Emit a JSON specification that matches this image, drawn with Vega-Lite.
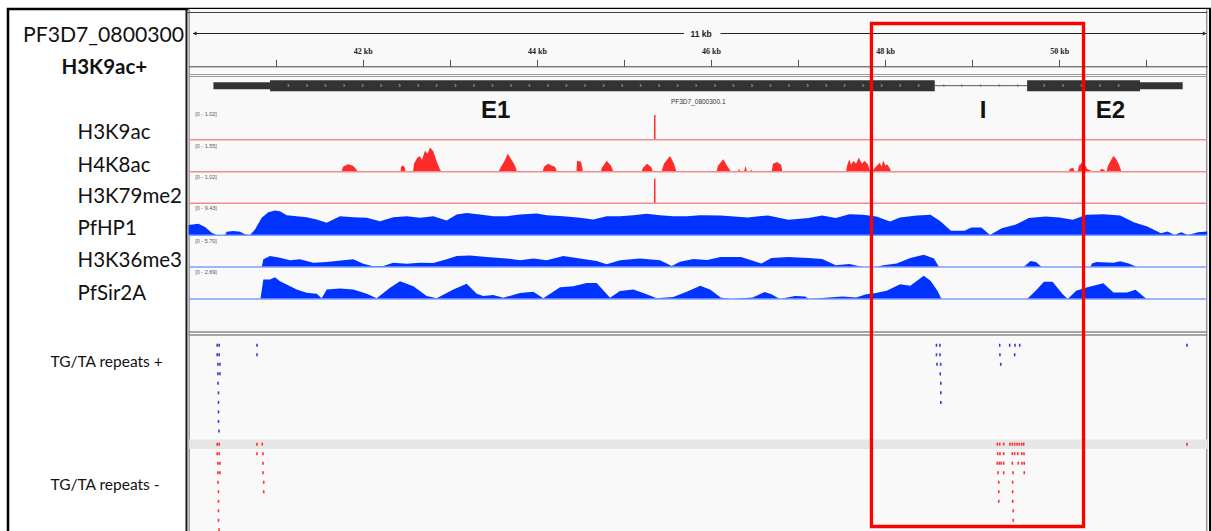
{
  "$schema": "https://vega.github.io/schema/vega-lite/v6.json",
  "width": 1211,
  "height": 531,
  "autosize": {"type": "fit", "contains": "padding"},
  "padding": {"left": 8, "top": 8, "right": 1, "bottom": -3},
  "background": "#ffffff",
  "config": {"view": {"stroke": "#000000", "strokeWidth": 2.5}},
  "resolve": {
    "scale": {"y": "independent", "color": "independent", "strokeWidth": "independent", "shape": "independent"},
    "axis": {"y": "independent"}
  },
  "datasets": {
    "panel": [{"start": 40.0, "end": 51.72}],
    "frame_v": [{"edge": "panel border", "pos": 39.975}, {"edge": "panel inner", "pos": 40.006}, {"edge": "panel right", "pos": 51.694}],
    "frame_top": [{"edge": "top", "start": 39.975, "end": 51.7}],
    "ruler_sep": [{"edge": "upper", "start": 40.0, "end": 51.7}, {"edge": "lower", "start": 40.0, "end": 51.7}],
    "repeat_sep": [{"edge": "upper", "start": 40.0, "end": 51.7}, {"edge": "lower", "start": 40.0, "end": 51.7}],
    "ruler_span": [{"track": "ruler", "start": 40.05, "end": 45.69}, {"track": "ruler", "start": 46.11, "end": 51.69}],
    "ruler_arrows": [{"track": "ruler", "pos": 40.07, "dir": "left"}, {"track": "ruler", "pos": 51.67, "dir": "right"}],
    "ruler_text": [{"track": "ruler", "pos": 45.886, "label": "11 kb"}],
    "gene_intron": [{"track": "gene", "start": 48.57, "end": 49.631}],
    "gene_parts": [
      {"track": "gene", "kind": "UTR", "start": 40.285, "end": 40.935},
      {"track": "gene", "kind": "CDS", "start": 40.935, "end": 48.57},
      {"track": "gene", "kind": "CDS", "start": 49.631, "end": 50.928},
      {"track": "gene", "kind": "UTR", "start": 50.928, "end": 51.418}
    ],
    "exon_chevrons": [
      {"track": "gene", "pos": 41.145}, {"track": "gene", "pos": 41.358}, {"track": "gene", "pos": 41.571}, {"track": "gene", "pos": 41.784},
      {"track": "gene", "pos": 41.997}, {"track": "gene", "pos": 42.21}, {"track": "gene", "pos": 42.423}, {"track": "gene", "pos": 42.636},
      {"track": "gene", "pos": 42.849}, {"track": "gene", "pos": 43.062}, {"track": "gene", "pos": 43.275}, {"track": "gene", "pos": 43.488},
      {"track": "gene", "pos": 43.7}, {"track": "gene", "pos": 43.913}, {"track": "gene", "pos": 44.126}, {"track": "gene", "pos": 44.339},
      {"track": "gene", "pos": 44.552}, {"track": "gene", "pos": 44.765}, {"track": "gene", "pos": 44.978}, {"track": "gene", "pos": 45.191},
      {"track": "gene", "pos": 45.404}, {"track": "gene", "pos": 45.617}, {"track": "gene", "pos": 45.83}, {"track": "gene", "pos": 46.043},
      {"track": "gene", "pos": 46.256}, {"track": "gene", "pos": 46.469}, {"track": "gene", "pos": 46.682}, {"track": "gene", "pos": 46.895},
      {"track": "gene", "pos": 47.108}, {"track": "gene", "pos": 47.321}, {"track": "gene", "pos": 47.533}, {"track": "gene", "pos": 47.746},
      {"track": "gene", "pos": 47.959}, {"track": "gene", "pos": 48.172}, {"track": "gene", "pos": 48.385},
      {"track": "gene", "pos": 49.825}, {"track": "gene", "pos": 50.04}, {"track": "gene", "pos": 50.254}, {"track": "gene", "pos": 50.467}, {"track": "gene", "pos": 50.681}
    ],
    "intron_chevrons": [
      {"track": "gene", "pos": 48.676}, {"track": "gene", "pos": 48.883}, {"track": "gene", "pos": 49.098}, {"track": "gene", "pos": 49.311}, {"track": "gene", "pos": 49.526}
    ],
    "gene_name": [{"track": "gene", "pos": 45.853, "label": "PF3D7_0800300.1"}],
    "exon_labels": [
      {"track": "gene", "pos": 43.528, "label": "E1"},
      {"track": "gene", "pos": 49.124, "label": "I"},
      {"track": "gene", "pos": 50.588, "label": "E2"}
    ],
    "H3K9ac": [
      {"pos": 40.0, "value": 0}, {"pos": 45.345, "value": 0}, {"pos": 45.346, "value": 1.02},
      {"pos": 45.362, "value": 1.02}, {"pos": 45.363, "value": 0}, {"pos": 51.7, "value": 0}
    ],
    "H3K79me2": [
      {"pos": 40.0, "value": 0}, {"pos": 45.345, "value": 0}, {"pos": 45.346, "value": 1.02},
      {"pos": 45.362, "value": 1.02}, {"pos": 45.363, "value": 0}, {"pos": 51.7, "value": 0}
    ],
    "H4K8ac": [
      {"pos": 40.0, "value": 0}, {"pos": 41.756, "value": 0}, {"pos": 41.773, "value": 0.31}, {"pos": 41.83, "value": 0.46},
      {"pos": 41.888, "value": 0.37}, {"pos": 41.93, "value": 0.12}, {"pos": 41.94, "value": 0},
      {"pos": 42.376, "value": 0}, {"pos": 42.382, "value": 0.08}, {"pos": 42.391, "value": 0},
      {"pos": 42.434, "value": 0}, {"pos": 42.439, "value": 0.31}, {"pos": 42.462, "value": 0.39}, {"pos": 42.485, "value": 0.25}, {"pos": 42.491, "value": 0},
      {"pos": 42.577, "value": 0}, {"pos": 42.589, "value": 0.5}, {"pos": 42.626, "value": 0.87}, {"pos": 42.657, "value": 0.97},
      {"pos": 42.68, "value": 0.74}, {"pos": 42.715, "value": 1.32}, {"pos": 42.744, "value": 1.12}, {"pos": 42.772, "value": 1.52},
      {"pos": 42.81, "value": 1.28}, {"pos": 42.849, "value": 0.66}, {"pos": 42.887, "value": 0.14}, {"pos": 42.907, "value": 0},
      {"pos": 43.559, "value": 0}, {"pos": 43.576, "value": 0.19}, {"pos": 43.634, "value": 0.74}, {"pos": 43.665, "value": 1.12},
      {"pos": 43.711, "value": 0.74}, {"pos": 43.749, "value": 0.37}, {"pos": 43.772, "value": 0},
      {"pos": 44.065, "value": 0}, {"pos": 44.082, "value": 0.31}, {"pos": 44.128, "value": 0.5}, {"pos": 44.174, "value": 0.37},
      {"pos": 44.208, "value": 0.31}, {"pos": 44.231, "value": 0},
      {"pos": 44.455, "value": 0}, {"pos": 44.461, "value": 0.68}, {"pos": 44.507, "value": 0.62}, {"pos": 44.53, "value": 0},
      {"pos": 44.731, "value": 0}, {"pos": 44.748, "value": 0.25}, {"pos": 44.802, "value": 0.68}, {"pos": 44.851, "value": 0.37}, {"pos": 44.88, "value": 0},
      {"pos": 45.202, "value": 0}, {"pos": 45.219, "value": 0.25}, {"pos": 45.265, "value": 0.5}, {"pos": 45.311, "value": 0.31}, {"pos": 45.334, "value": 0},
      {"pos": 45.431, "value": 0}, {"pos": 45.46, "value": 0.5}, {"pos": 45.529, "value": 0.99}, {"pos": 45.575, "value": 0.5}, {"pos": 45.604, "value": 0},
      {"pos": 46.063, "value": 0}, {"pos": 46.08, "value": 0.37}, {"pos": 46.141, "value": 0.78}, {"pos": 46.184, "value": 0.37}, {"pos": 46.23, "value": 0},
      {"pos": 46.31, "value": 0}, {"pos": 46.321, "value": 0.19}, {"pos": 46.339, "value": 0},
      {"pos": 46.379, "value": 0}, {"pos": 46.396, "value": 0.37}, {"pos": 46.414, "value": 0},
      {"pos": 46.449, "value": 0}, {"pos": 46.465, "value": 0.12}, {"pos": 46.483, "value": 0},
      {"pos": 46.695, "value": 0}, {"pos": 46.712, "value": 0.5}, {"pos": 46.758, "value": 0.61}, {"pos": 46.804, "value": 0.43}, {"pos": 46.821, "value": 0},
      {"pos": 47.551, "value": 0}, {"pos": 47.563, "value": 0.37}, {"pos": 47.589, "value": 0.78}, {"pos": 47.608, "value": 0.43},
      {"pos": 47.636, "value": 0.67}, {"pos": 47.666, "value": 0.5}, {"pos": 47.698, "value": 0.88}, {"pos": 47.734, "value": 0.5},
      {"pos": 47.764, "value": 0.67}, {"pos": 47.802, "value": 0.47}, {"pos": 47.822, "value": 0.12}, {"pos": 47.85, "value": 0},
      {"pos": 47.873, "value": 0.19}, {"pos": 47.939, "value": 0.56}, {"pos": 47.959, "value": 0.31}, {"pos": 47.978, "value": 0.71},
      {"pos": 48.005, "value": 0.37}, {"pos": 48.024, "value": 0.47}, {"pos": 48.056, "value": 0.19}, {"pos": 48.068, "value": 0},
      {"pos": 49.974, "value": 0}, {"pos": 49.981, "value": 0.06}, {"pos": 49.991, "value": 0},
      {"pos": 50.106, "value": 0}, {"pos": 50.123, "value": 0.19}, {"pos": 50.158, "value": 0.25}, {"pos": 50.181, "value": 0},
      {"pos": 50.21, "value": 0}, {"pos": 50.227, "value": 0.37}, {"pos": 50.261, "value": 0.56}, {"pos": 50.296, "value": 0.43},
      {"pos": 50.319, "value": 0.19}, {"pos": 50.342, "value": 0.12}, {"pos": 50.388, "value": 0},
      {"pos": 50.463, "value": 0}, {"pos": 50.481, "value": 0.19}, {"pos": 50.515, "value": 0.12}, {"pos": 50.532, "value": 0},
      {"pos": 50.543, "value": 0}, {"pos": 50.56, "value": 0.37}, {"pos": 50.595, "value": 0.74}, {"pos": 50.623, "value": 0.99},
      {"pos": 50.652, "value": 0.81}, {"pos": 50.687, "value": 0.43}, {"pos": 50.715, "value": 0}, {"pos": 51.7, "value": 0}
    ],
    "PfHP1": [
      {"pos": 40.0, "value": 3.9}, {"pos": 40.047, "value": 4.15}, {"pos": 40.111, "value": 4.41}, {"pos": 40.188, "value": 3.13},
      {"pos": 40.265, "value": 1.02}, {"pos": 40.322, "value": 0.11}, {"pos": 40.418, "value": 0.15}, {"pos": 40.437, "value": 1.4},
      {"pos": 40.513, "value": 1.62}, {"pos": 40.59, "value": 1.4}, {"pos": 40.647, "value": 0.38}, {"pos": 40.705, "value": 0.11},
      {"pos": 40.762, "value": 2.26}, {"pos": 40.839, "value": 6.68}, {"pos": 40.915, "value": 8.79}, {"pos": 40.992, "value": 9.43},
      {"pos": 41.049, "value": 9.17}, {"pos": 41.126, "value": 7.66}, {"pos": 41.241, "value": 7.28}, {"pos": 41.356, "value": 6.9},
      {"pos": 41.471, "value": 6.04}, {"pos": 41.586, "value": 4.79}, {"pos": 41.662, "value": 6.04}, {"pos": 41.739, "value": 7.28},
      {"pos": 41.891, "value": 6.9}, {"pos": 42.045, "value": 6.68}, {"pos": 42.198, "value": 5.39}, {"pos": 42.351, "value": 6.9},
      {"pos": 42.505, "value": 7.28}, {"pos": 42.657, "value": 6.68}, {"pos": 42.81, "value": 7.28}, {"pos": 42.964, "value": 5.66},
      {"pos": 43.079, "value": 7.92}, {"pos": 43.194, "value": 8.56}, {"pos": 43.347, "value": 7.92}, {"pos": 43.499, "value": 7.28},
      {"pos": 43.653, "value": 7.28}, {"pos": 43.806, "value": 7.92}, {"pos": 43.998, "value": 8.3}, {"pos": 44.113, "value": 7.66},
      {"pos": 44.304, "value": 7.28}, {"pos": 44.495, "value": 6.68}, {"pos": 44.648, "value": 6.04}, {"pos": 44.802, "value": 7.28},
      {"pos": 44.955, "value": 7.28}, {"pos": 45.108, "value": 7.66}, {"pos": 45.261, "value": 8.19}, {"pos": 45.414, "value": 7.66},
      {"pos": 45.567, "value": 7.28}, {"pos": 45.721, "value": 7.28}, {"pos": 45.874, "value": 7.66}, {"pos": 46.11, "value": 7.58},
      {"pos": 46.421, "value": 6.79}, {"pos": 46.655, "value": 7.58}, {"pos": 46.889, "value": 5.92}, {"pos": 47.122, "value": 6.56},
      {"pos": 47.277, "value": 7.58}, {"pos": 47.433, "value": 6.56}, {"pos": 47.589, "value": 8.07}, {"pos": 47.745, "value": 7.85},
      {"pos": 47.9, "value": 7.2}, {"pos": 48.056, "value": 5.28}, {"pos": 48.171, "value": 6.79}, {"pos": 48.366, "value": 7.58},
      {"pos": 48.522, "value": 7.85}, {"pos": 48.638, "value": 5.28}, {"pos": 48.756, "value": 1.7}, {"pos": 48.912, "value": 1.7},
      {"pos": 48.989, "value": 2.98}, {"pos": 49.106, "value": 2.98}, {"pos": 49.204, "value": 0.15}, {"pos": 49.339, "value": 2.72},
      {"pos": 49.494, "value": 4.0}, {"pos": 49.65, "value": 6.56}, {"pos": 49.844, "value": 7.2}, {"pos": 50.001, "value": 6.79},
      {"pos": 50.156, "value": 5.92}, {"pos": 50.312, "value": 7.85}, {"pos": 50.506, "value": 8.07}, {"pos": 50.7, "value": 7.58},
      {"pos": 50.856, "value": 5.02}, {"pos": 51.011, "value": 3.36}, {"pos": 51.168, "value": 0.79}, {"pos": 51.245, "value": 1.43},
      {"pos": 51.323, "value": 0.15}, {"pos": 51.401, "value": 1.13}, {"pos": 51.479, "value": 0.15}, {"pos": 51.595, "value": 1.13},
      {"pos": 51.7, "value": 1.43}
    ],
    "H3K36me3": [
      {"pos": 40.0, "value": 0}, {"pos": 40.84, "value": 0}, {"pos": 40.858, "value": 1.76}, {"pos": 40.935, "value": 2.51},
      {"pos": 41.049, "value": 2.12}, {"pos": 41.164, "value": 1.53}, {"pos": 41.279, "value": 1.76}, {"pos": 41.432, "value": 0.98},
      {"pos": 41.586, "value": 1.14}, {"pos": 41.776, "value": 1.53}, {"pos": 41.891, "value": 1.76}, {"pos": 42.006, "value": 0.75},
      {"pos": 42.121, "value": 0.16}, {"pos": 42.236, "value": 0.23}, {"pos": 42.351, "value": 0.98}, {"pos": 42.505, "value": 0.75},
      {"pos": 42.657, "value": 0.98}, {"pos": 42.81, "value": 0.91}, {"pos": 42.964, "value": 1.76}, {"pos": 43.079, "value": 2.51},
      {"pos": 43.232, "value": 2.67}, {"pos": 43.424, "value": 2.28}, {"pos": 43.653, "value": 1.98}, {"pos": 43.806, "value": 1.53},
      {"pos": 43.959, "value": 1.98}, {"pos": 44.113, "value": 1.53}, {"pos": 44.304, "value": 2.51}, {"pos": 44.495, "value": 1.98},
      {"pos": 44.687, "value": 1.37}, {"pos": 44.802, "value": 0.62}, {"pos": 44.955, "value": 1.53}, {"pos": 45.184, "value": 1.98},
      {"pos": 45.414, "value": 1.53}, {"pos": 45.549, "value": 0.23}, {"pos": 45.644, "value": 1.2}, {"pos": 45.798, "value": 1.82},
      {"pos": 45.955, "value": 1.6}, {"pos": 46.11, "value": 2.3}, {"pos": 46.345, "value": 2.3}, {"pos": 46.578, "value": 0.78},
      {"pos": 46.694, "value": 2.07}, {"pos": 46.889, "value": 2.3}, {"pos": 47.122, "value": 2.07}, {"pos": 47.277, "value": 1.82},
      {"pos": 47.433, "value": 0.39}, {"pos": 47.589, "value": 0.68}, {"pos": 47.745, "value": 0}, {"pos": 47.9, "value": 0},
      {"pos": 47.978, "value": 0.39}, {"pos": 48.133, "value": 0.78}, {"pos": 48.29, "value": 2.07}, {"pos": 48.444, "value": 2.85},
      {"pos": 48.561, "value": 1.94}, {"pos": 48.619, "value": 0}, {"pos": 49.592, "value": 0}, {"pos": 49.67, "value": 1.37},
      {"pos": 49.733, "value": 1.14}, {"pos": 49.798, "value": 0}, {"pos": 50.358, "value": 0}, {"pos": 50.376, "value": 0.78},
      {"pos": 50.428, "value": 1.14}, {"pos": 50.623, "value": 1.0}, {"pos": 50.7, "value": 1.3}, {"pos": 50.798, "value": 0.78},
      {"pos": 50.895, "value": 0}, {"pos": 51.7, "value": 0}
    ],
    "PfSir2A": [
      {"pos": 40.0, "value": 0}, {"pos": 40.825, "value": 0}, {"pos": 40.858, "value": 2.12}, {"pos": 40.935, "value": 2.12},
      {"pos": 40.992, "value": 2.37}, {"pos": 41.049, "value": 1.94}, {"pos": 41.126, "value": 1.58}, {"pos": 41.241, "value": 1.04},
      {"pos": 41.356, "value": 0.68}, {"pos": 41.471, "value": 0.57}, {"pos": 41.528, "value": 0.08}, {"pos": 41.586, "value": 1.04},
      {"pos": 41.739, "value": 1.15}, {"pos": 41.891, "value": 1.04}, {"pos": 42.045, "value": 0.57}, {"pos": 42.16, "value": 0.08},
      {"pos": 42.313, "value": 1.22}, {"pos": 42.428, "value": 1.94}, {"pos": 42.581, "value": 1.4}, {"pos": 42.734, "value": 0.32},
      {"pos": 42.849, "value": 0.08}, {"pos": 43.04, "value": 1.04}, {"pos": 43.194, "value": 1.65}, {"pos": 43.309, "value": 0.57},
      {"pos": 43.385, "value": 0.32}, {"pos": 43.499, "value": 0.43}, {"pos": 43.614, "value": 0.14}, {"pos": 43.806, "value": 0.65},
      {"pos": 43.959, "value": 0.79}, {"pos": 44.074, "value": 0.08}, {"pos": 44.266, "value": 1.29}, {"pos": 44.418, "value": 1.4},
      {"pos": 44.572, "value": 1.75}, {"pos": 44.687, "value": 1.75}, {"pos": 44.84, "value": 0.14}, {"pos": 44.955, "value": 0.86},
      {"pos": 45.108, "value": 1.04}, {"pos": 45.261, "value": 0.51}, {"pos": 45.376, "value": 0.08}, {"pos": 45.567, "value": 0.22},
      {"pos": 45.721, "value": 0.79}, {"pos": 45.877, "value": 1.43}, {"pos": 45.994, "value": 1.0}, {"pos": 46.11, "value": 0.16},
      {"pos": 46.227, "value": 0}, {"pos": 46.48, "value": 0.16}, {"pos": 46.617, "value": 0.77}, {"pos": 46.694, "value": 0.53},
      {"pos": 46.791, "value": 0}, {"pos": 46.966, "value": 0.34}, {"pos": 47.083, "value": 0.27}, {"pos": 47.122, "value": 0},
      {"pos": 47.355, "value": 0.16}, {"pos": 47.51, "value": 0.27}, {"pos": 47.667, "value": 0.16}, {"pos": 47.784, "value": 0.53},
      {"pos": 47.88, "value": 0.63}, {"pos": 48.017, "value": 0.89}, {"pos": 48.172, "value": 1.61}, {"pos": 48.289, "value": 1.43},
      {"pos": 48.444, "value": 2.53}, {"pos": 48.522, "value": 1.98}, {"pos": 48.601, "value": 0.89}, {"pos": 48.647, "value": 0},
      {"pos": 49.631, "value": 0}, {"pos": 49.729, "value": 0.89}, {"pos": 49.825, "value": 1.87}, {"pos": 49.923, "value": 1.87},
      {"pos": 50.04, "value": 0.53}, {"pos": 50.097, "value": 0}, {"pos": 50.195, "value": 0.89}, {"pos": 50.312, "value": 1.25},
      {"pos": 50.506, "value": 1.72}, {"pos": 50.623, "value": 0.71}, {"pos": 50.778, "value": 0.71}, {"pos": 50.876, "value": 1.0},
      {"pos": 51.003, "value": 0}, {"pos": 51.7, "value": 0}
    ],
    "repeats_plus": [
      {"row": 1, "pos": 40.328}, {"row": 1, "pos": 40.351}, {"row": 1, "pos": 40.785}, {"row": 1, "pos": 48.59}, {"row": 1, "pos": 48.63},
      {"row": 1, "pos": 49.316}, {"row": 1, "pos": 49.431}, {"row": 1, "pos": 49.492}, {"row": 1, "pos": 49.546}, {"row": 1, "pos": 51.468},
      {"row": 2, "pos": 40.328}, {"row": 2, "pos": 40.351}, {"row": 2, "pos": 40.785}, {"row": 2, "pos": 48.59}, {"row": 2, "pos": 48.63},
      {"row": 2, "pos": 49.319}, {"row": 2, "pos": 49.488},
      {"row": 3, "pos": 40.336}, {"row": 3, "pos": 40.359}, {"row": 3, "pos": 48.596}, {"row": 3, "pos": 48.638}, {"row": 3, "pos": 49.328},
      {"row": 4, "pos": 40.336}, {"row": 4, "pos": 40.359}, {"row": 4, "pos": 48.633},
      {"row": 5, "pos": 40.337}, {"row": 5, "pos": 48.64},
      {"row": 6, "pos": 40.343}, {"row": 6, "pos": 48.64},
      {"row": 7, "pos": 40.343}, {"row": 7, "pos": 48.64},
      {"row": 8, "pos": 40.343},
      {"row": 9, "pos": 40.343},
      {"row": 10, "pos": 40.349}
    ],
    "repeats_minus": [
      {"row": 1, "pos": 40.328}, {"row": 1, "pos": 40.351}, {"row": 1, "pos": 40.785}, {"row": 1, "pos": 40.846},
      {"row": 1, "pos": 49.289}, {"row": 1, "pos": 49.316}, {"row": 1, "pos": 49.362}, {"row": 1, "pos": 49.434}, {"row": 1, "pos": 49.461},
      {"row": 1, "pos": 49.488}, {"row": 1, "pos": 49.515}, {"row": 1, "pos": 49.541}, {"row": 1, "pos": 49.569}, {"row": 1, "pos": 49.592},
      {"row": 1, "pos": 51.468},
      {"row": 2, "pos": 40.328}, {"row": 2, "pos": 40.351}, {"row": 2, "pos": 40.785}, {"row": 2, "pos": 40.854},
      {"row": 2, "pos": 49.293}, {"row": 2, "pos": 49.319}, {"row": 2, "pos": 49.362}, {"row": 2, "pos": 49.461}, {"row": 2, "pos": 49.488},
      {"row": 2, "pos": 49.523}, {"row": 2, "pos": 49.569}, {"row": 2, "pos": 49.595},
      {"row": 3, "pos": 40.336}, {"row": 3, "pos": 40.359}, {"row": 3, "pos": 40.854}, {"row": 3, "pos": 49.289}, {"row": 3, "pos": 49.312},
      {"row": 3, "pos": 49.334}, {"row": 3, "pos": 49.362}, {"row": 3, "pos": 49.461}, {"row": 3, "pos": 49.53}, {"row": 3, "pos": 49.572},
      {"row": 3, "pos": 49.598},
      {"row": 4, "pos": 40.336}, {"row": 4, "pos": 40.359}, {"row": 4, "pos": 40.854}, {"row": 4, "pos": 49.297}, {"row": 4, "pos": 49.362},
      {"row": 4, "pos": 49.469}, {"row": 4, "pos": 49.598},
      {"row": 5, "pos": 40.337}, {"row": 5, "pos": 40.862}, {"row": 5, "pos": 49.305}, {"row": 5, "pos": 49.465},
      {"row": 6, "pos": 40.343}, {"row": 6, "pos": 40.862}, {"row": 6, "pos": 49.305}, {"row": 6, "pos": 49.465},
      {"row": 7, "pos": 40.343}, {"row": 7, "pos": 49.305}, {"row": 7, "pos": 49.465},
      {"row": 8, "pos": 40.343}, {"row": 8, "pos": 49.472},
      {"row": 9, "pos": 40.343}, {"row": 9, "pos": 49.472},
      {"row": 10, "pos": 40.349}
    ],
    "selected_row": [{"row": 1, "start": 40.006, "end": 51.7}],
    "highlight": [{"region": "highlight", "start": 47.843, "end": 50.279}]
  },
  "layer": [
    {
      "data": {"name": "panel"},
      "mark": {"type": "rect", "fill": "#f9f9f9"},
      "encoding": {
        "x": {
          "field": "start", "type": "quantitative",
          "scale": {"domain": [40, 51.7], "range": [180.64, 1199.24], "nice": false, "zero": false},
          "axis": {
            "orient": "top", "offset": -57.3, "zindex": 1,
            "values": [41, 42, 43, 44, 45, 46, 47, 48, 49, 50, 51],
            "labelExpr": "datum.value % 2 == 0 ? datum.value + ' kb' : ''",
            "title": null, "grid": false, "tickSize": 7, "tickColor": "#555555", "domainColor": "#444444",
            "labelFont": "Liberation Sans Narrow", "labelFontWeight": "bold", "labelFontSize": 8, "labelColor": "#222222",
            "labelPadding": 4, "labelFlush": false, "labelOverlap": false
          }
        },
        "x2": {"field": "end"}
      }
    },
    {
      "data": {"name": "frame_v"},
      "mark": {"type": "rule"},
      "encoding": {
        "x": {"field": "pos", "type": "quantitative"},
        "color": {"field": "edge", "type": "nominal", "scale": {"domain": ["panel border", "panel inner", "panel right"], "range": ["#1a1a1a", "#a0a0a0", "#8c8c8c"]}, "legend": null},
        "strokeWidth": {"field": "edge", "type": "nominal", "scale": {"domain": ["panel border", "panel inner", "panel right"], "range": [2, 1.3, 1.3]}, "legend": null}
      }
    },
    {
      "data": {"name": "frame_top"},
      "mark": {"type": "rule", "color": "#444444", "strokeWidth": 1},
      "encoding": {
        "x": {"field": "start", "type": "quantitative"}, "x2": {"field": "end"},
        "y": {"field": "edge", "type": "nominal", "scale": {"type": "point", "domain": ["top"], "range": [3.5, 3.5], "padding": 0}, "axis": null}
      }
    },
    {
      "data": {"name": "ruler_sep"},
      "mark": {"type": "rule", "color": "#9a9a9a", "strokeWidth": 1},
      "encoding": {
        "x": {"field": "start", "type": "quantitative"}, "x2": {"field": "end"},
        "y": {"field": "edge", "type": "nominal", "scale": {"type": "point", "domain": ["upper", "lower"], "range": [65.5, 67.5], "padding": 0}, "axis": null}
      }
    },
    {
      "data": {"name": "repeat_sep"},
      "mark": {"type": "rule", "color": "#8a8a8a", "strokeWidth": 1.5},
      "encoding": {
        "x": {"field": "start", "type": "quantitative"}, "x2": {"field": "end"},
        "y": {"field": "edge", "type": "nominal", "scale": {"type": "point", "domain": ["upper", "lower"], "range": [323, 326], "padding": 0}, "axis": null}
      }
    },
    {
      "encoding": {
        "y": {
          "field": "track", "type": "nominal",
          "scale": {"type": "point", "domain": ["ruler"], "range": [24.5, 24.5], "padding": 0},
          "axis": {"orient": "left", "title": "PF3D7_0800300", "titleX": 95, "titleY": 32.7, "titleAlign": "center", "titleAngle": 0,
            "titleBaseline": "alphabetic", "titleFont": "Lato", "titleFontSize": 21.2, "titleFontWeight": "normal", "titleColor": "#111111",
            "titleLimit": 1000, "labels": false, "ticks": false, "domain": false, "grid": false, "zindex": 1}
        }
      },
      "layer": [
        {"data": {"name": "ruler_span"}, "mark": {"type": "rule", "color": "#222222", "strokeWidth": 1},
         "encoding": {"x": {"field": "start", "type": "quantitative"}, "x2": {"field": "end"}}},
        {"data": {"name": "ruler_arrows"}, "mark": {"type": "point", "filled": true, "size": 18, "color": "#222222", "opacity": 1},
         "encoding": {"x": {"field": "pos", "type": "quantitative"},
           "shape": {"field": "dir", "type": "nominal", "scale": {"domain": ["left", "right"], "range": ["triangle-left", "triangle-right"]}, "legend": null}}},
        {"data": {"name": "ruler_text"}, "mark": {"type": "text", "font": "Liberation Sans", "fontWeight": "bold", "fontSize": 8.5, "color": "#222222", "baseline": "middle"},
         "encoding": {"x": {"field": "pos", "type": "quantitative"}, "text": {"field": "label"}}}
      ]
    },
    {
      "encoding": {
        "y": {
          "field": "track", "type": "nominal",
          "scale": {"type": "point", "domain": ["gene"], "range": [76.7, 76.7], "padding": 0},
          "axis": {"orient": "left", "title": "H3K9ac+", "titleX": 95.8, "titleY": 64.3, "titleAlign": "center", "titleAngle": 0,
            "titleBaseline": "alphabetic", "titleFont": "Lato", "titleFontSize": 20.5, "titleFontWeight": "bold", "titleColor": "#111111",
            "titleLimit": 1000, "labels": false, "ticks": false, "domain": false, "grid": false, "zindex": 1}
        }
      },
      "layer": [
        {"data": {"name": "gene_intron"}, "mark": {"type": "rule", "color": "#555555", "strokeWidth": 1},
         "encoding": {"x": {"field": "start", "type": "quantitative"}, "x2": {"field": "end"}}},
        {"data": {"name": "gene_parts"}, "mark": {"type": "rule", "color": "#333333", "strokeCap": "butt"},
         "encoding": {"x": {"field": "start", "type": "quantitative"}, "x2": {"field": "end"},
           "strokeWidth": {"field": "kind", "type": "nominal", "scale": {"domain": ["CDS", "UTR"], "range": [11, 7]}, "legend": null}}},
        {"data": {"name": "exon_chevrons"}, "mark": {"type": "text", "text": "›", "font": "Liberation Sans", "fontSize": 8, "color": "#b8b8b8", "baseline": "middle"},
         "encoding": {"x": {"field": "pos", "type": "quantitative"}}},
        {"data": {"name": "intron_chevrons"}, "mark": {"type": "text", "text": "›", "font": "Liberation Sans", "fontSize": 7, "color": "#666666", "baseline": "middle"},
         "encoding": {"x": {"field": "pos", "type": "quantitative"}}},
        {"data": {"name": "gene_name"}, "mark": {"type": "text", "font": "Liberation Sans", "fontSize": 6.5, "color": "#333333", "baseline": "middle", "dy": 16.3},
         "encoding": {"x": {"field": "pos", "type": "quantitative"}, "text": {"field": "label"}}},
        {"data": {"name": "exon_labels"}, "mark": {"type": "text", "font": "Liberation Sans", "fontSize": 24, "fontWeight": "bold", "color": "#111111", "baseline": "alphabetic", "dy": 31.8},
         "encoding": {"x": {"field": "pos", "type": "quantitative"}, "text": {"field": "label"}}}
      ]
    },
    {
      "encoding": {
        "x": {"field": "pos", "type": "quantitative"},
        "y": {"field": "value", "type": "quantitative", "scale": {"domain": [0, 1.02], "range": [130.7, 106.0], "nice": false, "zero": true},
          "axis": {"orient": "left", "title": "H3K9ac", "titleX": 69, "titleY": 129.3, "titleAlign": "left", "titleAngle": 0,
            "titleBaseline": "alphabetic", "titleFont": "Lato", "titleFontSize": 20.5, "titleFontWeight": "normal", "titleColor": "#111111",
            "titleLimit": 1000, "labels": false, "ticks": false, "domain": false, "grid": false, "zindex": 1}}
      },
      "layer": [
        {"data": {"name": "H3K9ac"}, "mark": {"type": "area", "color": "#ff2a2a", "interpolate": "linear"}},
        {"data": {"values": [{"pos": 40.0, "end": 51.7, "value": 0}]}, "mark": {"type": "rule", "color": "#f08c8c", "strokeWidth": 1.5}, "encoding": {"x2": {"field": "end"}}},
        {"data": {"values": [{"pos": 40.075, "value": 1.02, "label": "[0 - 1.02]"}]}, "mark": {"type": "text", "font": "Liberation Sans", "align": "left", "baseline": "middle", "dy": -1.5, "fontSize": 5.5, "color": "#555555"}, "encoding": {"text": {"field": "label"}}}
      ]
    },
    {
      "encoding": {
        "x": {"field": "pos", "type": "quantitative"},
        "y": {"field": "value", "type": "quantitative", "scale": {"domain": [0, 1.55], "range": [162.7, 138.0], "nice": false, "zero": true},
          "axis": {"orient": "left", "title": "H4K8ac", "titleX": 69, "titleY": 162.3, "titleAlign": "left", "titleAngle": 0,
            "titleBaseline": "alphabetic", "titleFont": "Lato", "titleFontSize": 20.5, "titleFontWeight": "normal", "titleColor": "#111111",
            "titleLimit": 1000, "labels": false, "ticks": false, "domain": false, "grid": false, "zindex": 1}}
      },
      "layer": [
        {"data": {"name": "H4K8ac"}, "mark": {"type": "area", "color": "#ff2a2a", "interpolate": "linear"}},
        {"data": {"values": [{"pos": 40.0, "end": 51.7, "value": 0}]}, "mark": {"type": "rule", "color": "#f08c8c", "strokeWidth": 1.5}, "encoding": {"x2": {"field": "end"}}},
        {"data": {"values": [{"pos": 40.075, "value": 1.55, "label": "[0 - 1.55]"}]}, "mark": {"type": "text", "font": "Liberation Sans", "align": "left", "baseline": "middle", "dy": -1.5, "fontSize": 5.5, "color": "#555555"}, "encoding": {"text": {"field": "label"}}}
      ]
    },
    {
      "encoding": {
        "x": {"field": "pos", "type": "quantitative"},
        "y": {"field": "value", "type": "quantitative", "scale": {"domain": [0, 1.02], "range": [194.3, 169.6], "nice": false, "zero": true},
          "axis": {"orient": "left", "title": "H3K79me2", "titleX": 69, "titleY": 193.7, "titleAlign": "left", "titleAngle": 0,
            "titleBaseline": "alphabetic", "titleFont": "Lato", "titleFontSize": 20.5, "titleFontWeight": "normal", "titleColor": "#111111",
            "titleLimit": 1000, "labels": false, "ticks": false, "domain": false, "grid": false, "zindex": 1}}
      },
      "layer": [
        {"data": {"name": "H3K79me2"}, "mark": {"type": "area", "color": "#ff2a2a", "interpolate": "linear"}},
        {"data": {"values": [{"pos": 40.0, "end": 51.7, "value": 0}]}, "mark": {"type": "rule", "color": "#f08c8c", "strokeWidth": 1.5}, "encoding": {"x2": {"field": "end"}}},
        {"data": {"values": [{"pos": 40.075, "value": 1.02, "label": "[0 - 1.02]"}]}, "mark": {"type": "text", "font": "Liberation Sans", "align": "left", "baseline": "middle", "dy": -1.5, "fontSize": 5.5, "color": "#555555"}, "encoding": {"text": {"field": "label"}}}
      ]
    },
    {
      "encoding": {
        "x": {"field": "pos", "type": "quantitative"},
        "y": {"field": "value", "type": "quantitative", "scale": {"domain": [0, 9.43], "range": [226.3, 201.6], "nice": false, "zero": true},
          "axis": {"orient": "left", "title": "PfHP1", "titleX": 69, "titleY": 225.3, "titleAlign": "left", "titleAngle": 0,
            "titleBaseline": "alphabetic", "titleFont": "Lato", "titleFontSize": 20.5, "titleFontWeight": "normal", "titleColor": "#111111",
            "titleLimit": 1000, "labels": false, "ticks": false, "domain": false, "grid": false, "zindex": 1}}
      },
      "layer": [
        {"data": {"name": "PfHP1"}, "mark": {"type": "area", "color": "#0033ff", "interpolate": "linear"}},
        {"data": {"values": [{"pos": 40.0, "end": 51.7, "value": 0}]}, "mark": {"type": "rule", "color": "#7f9cff", "strokeWidth": 1.5}, "encoding": {"x2": {"field": "end"}}},
        {"data": {"values": [{"pos": 40.075, "value": 9.43, "label": "[0 - 9.43]"}]}, "mark": {"type": "text", "font": "Liberation Sans", "align": "left", "baseline": "middle", "dy": -2.5, "fontSize": 5.5, "color": "#555555"}, "encoding": {"text": {"field": "label"}}}
      ]
    },
    {
      "encoding": {
        "x": {"field": "pos", "type": "quantitative"},
        "y": {"field": "value", "type": "quantitative", "scale": {"domain": [0, 5.7], "range": [258.0, 233.3], "nice": false, "zero": true},
          "axis": {"orient": "left", "title": "H3K36me3", "titleX": 69, "titleY": 257, "titleAlign": "left", "titleAngle": 0,
            "titleBaseline": "alphabetic", "titleFont": "Lato", "titleFontSize": 20.5, "titleFontWeight": "normal", "titleColor": "#111111",
            "titleLimit": 1000, "labels": false, "ticks": false, "domain": false, "grid": false, "zindex": 1}}
      },
      "layer": [
        {"data": {"name": "H3K36me3"}, "mark": {"type": "area", "color": "#0033ff", "interpolate": "linear"}},
        {"data": {"values": [{"pos": 40.0, "end": 51.7, "value": 0}]}, "mark": {"type": "rule", "color": "#7f9cff", "strokeWidth": 1.5}, "encoding": {"x2": {"field": "end"}}},
        {"data": {"values": [{"pos": 40.075, "value": 5.7, "label": "[0 - 5.70]"}]}, "mark": {"type": "text", "font": "Liberation Sans", "align": "left", "baseline": "middle", "dy": -1.5, "fontSize": 5.5, "color": "#555555"}, "encoding": {"text": {"field": "label"}}}
      ]
    },
    {
      "encoding": {
        "x": {"field": "pos", "type": "quantitative"},
        "y": {"field": "value", "type": "quantitative", "scale": {"domain": [0, 2.69], "range": [290.0, 265.3], "nice": false, "zero": true},
          "axis": {"orient": "left", "title": "PfSir2A", "titleX": 69, "titleY": 290.5, "titleAlign": "left", "titleAngle": 0,
            "titleBaseline": "alphabetic", "titleFont": "Lato", "titleFontSize": 20.5, "titleFontWeight": "normal", "titleColor": "#111111",
            "titleLimit": 1000, "labels": false, "ticks": false, "domain": false, "grid": false, "zindex": 1}}
      },
      "layer": [
        {"data": {"name": "PfSir2A"}, "mark": {"type": "area", "color": "#0033ff", "interpolate": "linear"}},
        {"data": {"values": [{"pos": 40.0, "end": 51.7, "value": 0}]}, "mark": {"type": "rule", "color": "#7f9cff", "strokeWidth": 1.5}, "encoding": {"x2": {"field": "end"}}},
        {"data": {"values": [{"pos": 40.075, "value": 2.69, "label": "[0 - 2.69]"}]}, "mark": {"type": "text", "font": "Liberation Sans", "align": "left", "baseline": "middle", "dy": -2, "fontSize": 5.5, "color": "#555555"}, "encoding": {"text": {"field": "label"}}}
      ]
    },
    {
      "data": {"name": "repeats_plus"},
      "mark": {"type": "tick", "color": "#3b3bd0", "thickness": 1.6, "size": 3, "opacity": 1},
      "encoding": {
        "x": {"field": "pos", "type": "quantitative"},
        "y": {"field": "row", "type": "ordinal",
          "scale": {"type": "band", "domain": [1, 2, 3, 4, 5, 6, 7, 8, 9, 10], "range": [331.5, 426.7], "paddingInner": 0, "paddingOuter": 0},
          "axis": {"orient": "left", "title": "TG/TA repeats +", "titleX": 42, "titleY": 357, "titleAlign": "left", "titleAngle": 0,
            "titleBaseline": "alphabetic", "titleFont": "Lato", "titleFontSize": 15.5, "titleFontWeight": "normal", "titleColor": "#111111",
            "titleLimit": 1000, "labels": false, "ticks": false, "domain": false, "grid": false, "zindex": 1}}
      }
    },
    {
      "encoding": {
        "y": {"field": "row", "type": "ordinal",
          "scale": {"type": "band", "domain": [1, 2, 3, 4, 5, 6, 7, 8, 9, 10], "range": [430.4, 525.6], "paddingInner": 0, "paddingOuter": 0},
          "axis": {"orient": "left", "title": "TG/TA repeats -", "titleX": 42, "titleY": 480, "titleAlign": "left", "titleAngle": 0,
            "titleBaseline": "alphabetic", "titleFont": "Lato", "titleFontSize": 15.5, "titleFontWeight": "normal", "titleColor": "#111111",
            "titleLimit": 1000, "labels": false, "ticks": false, "domain": false, "grid": false, "zindex": 1}}
      },
      "layer": [
        {"data": {"name": "selected_row"}, "mark": {"type": "rect", "color": "#e6e6e6"},
         "encoding": {"x": {"field": "start", "type": "quantitative"}, "x2": {"field": "end"}}},
        {"data": {"name": "repeats_minus"}, "mark": {"type": "tick", "color": "#ff3030", "thickness": 1.6, "size": 3, "opacity": 1},
         "encoding": {"x": {"field": "pos", "type": "quantitative"}}}
      ]
    },
    {
      "data": {"name": "highlight"},
      "mark": {"type": "rect", "fillOpacity": 0, "stroke": "#ff0000", "strokeWidth": 3.3},
      "encoding": {
        "x": {"field": "start", "type": "quantitative"}, "x2": {"field": "end"},
        "y": {"field": "region", "type": "nominal", "scale": {"type": "band", "domain": ["highlight"], "range": [14.5, 517.5], "paddingInner": 0, "paddingOuter": 0}, "axis": null}
      }
    }
  ]
}
